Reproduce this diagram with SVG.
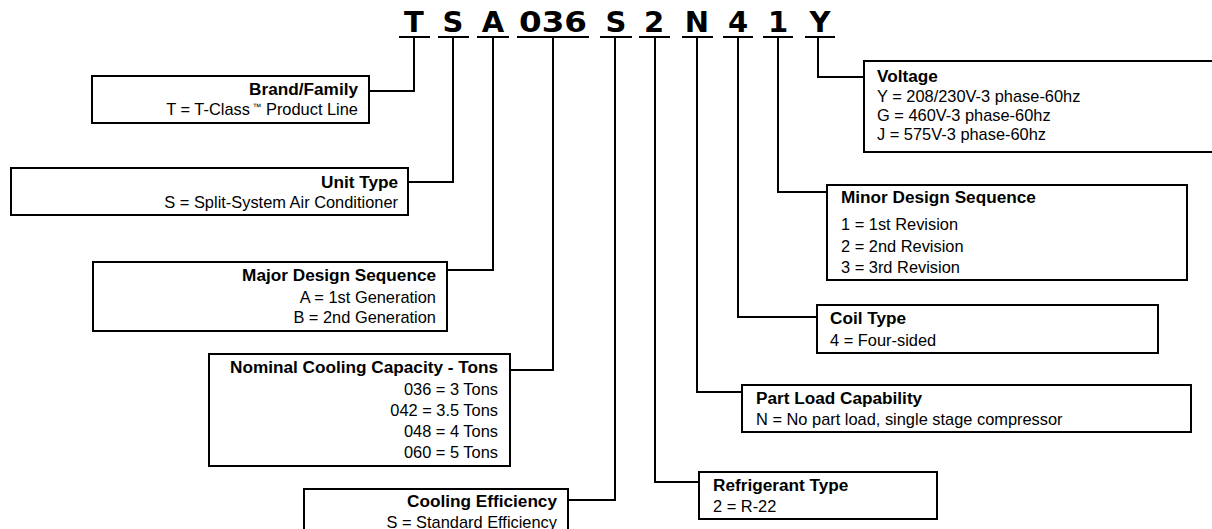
<svg xmlns="http://www.w3.org/2000/svg" width="1212" height="529" viewBox="0 0 1212 529">
<style>
.bg{fill:#fff}
.box{fill:#fff;stroke:#000;stroke-width:2}
.ln{fill:none;stroke:#000;stroke-width:2}
.code{font-family:"DejaVu Sans",sans-serif;font-weight:bold;font-size:29px;fill:#000;text-anchor:middle}
.t{font-family:"Liberation Sans",Arial,sans-serif;font-size:16.4px;fill:#000}
.b{font-weight:bold;font-size:17.2px}
.r{text-anchor:end}
</style>
<rect class="bg" x="0" y="0" width="1212" height="529"/>
<g id="code">
<text class="code" x="414" y="32">T</text>
<text class="code" x="453" y="32">S</text>
<text class="code" x="493" y="32">A</text>
<text class="code" x="553" y="32" textLength="68" lengthAdjust="spacingAndGlyphs">036</text>
<text class="code" x="616" y="32">S</text>
<text class="code" x="654" y="32">2</text>
<text class="code" x="697" y="32">N</text>
<text class="code" x="738" y="32">4</text>
<text class="code" x="778" y="32">1</text>
<text class="code" x="820" y="32">Y</text>
<path class="ln" d="M399 37H430M438 37H469M477 37H509M517 37H589M600 37H632M639 37H670M682 37H713M723 37H753M763 37H793M805 37H835"/>
</g>
<g id="connectors">
<path class="ln" d="M369 91H414V37"/>
<path class="ln" d="M408 182H453V37"/>
<path class="ln" d="M447 270H493V37"/>
<path class="ln" d="M510 370H553V37"/>
<path class="ln" d="M568 500H615V37"/>
<path class="ln" d="M655 37V482H699"/>
<path class="ln" d="M697 37V392H742"/>
<path class="ln" d="M738 37V317H817"/>
<path class="ln" d="M778 37V192H827"/>
<path class="ln" d="M818 37V77H864"/>
</g>
<g id="brand">
<rect class="box" x="92" y="76" width="277" height="47"/>
<text class="t b r" x="358" y="95">Brand/Family</text>
<text class="t r" x="358" y="115">T = T-Class<tspan font-size="9" dy="-5"> ™</tspan><tspan dy="5"> Product Line</tspan></text>
</g>
<g id="unit">
<rect class="box" x="11" y="168" width="397" height="47"/>
<text class="t b r" x="398" y="188">Unit Type</text>
<text class="t r" x="398" y="208">S = Split-System Air Conditioner</text>
</g>
<g id="major">
<rect class="box" x="93" y="262" width="354" height="69"/>
<text class="t b r" x="436" y="281">Major Design Sequence</text>
<text class="t r" x="436" y="303">A = 1st Generation</text>
<text class="t r" x="436" y="323">B = 2nd Generation</text>
</g>
<g id="nominal">
<rect class="box" x="209" y="354" width="301" height="112"/>
<text class="t b r" x="498" y="373">Nominal Cooling Capacity - Tons</text>
<text class="t r" x="498" y="395">036 = 3 Tons</text>
<text class="t r" x="498" y="416">042 = 3.5 Tons</text>
<text class="t r" x="498" y="437">048 = 4 Tons</text>
<text class="t r" x="498" y="458">060 = 5 Tons</text>
</g>
<g id="efficiency">
<rect class="box" x="304" y="489" width="264" height="52"/>
<text class="t b r" x="557" y="507">Cooling Efficiency</text>
<text class="t r" x="557" y="528">S = Standard Efficiency</text>
</g>
<g id="refrigerant">
<rect class="box" x="699" y="472" width="238" height="47"/>
<text class="t b" x="713" y="491">Refrigerant Type</text>
<text class="t" x="713" y="512">2 = R-22</text>
</g>
<g id="partload">
<rect class="box" x="742" y="385" width="449" height="47"/>
<text class="t b" x="756" y="404">Part Load Capability</text>
<text class="t" x="756" y="425">N = No part load, single stage compressor</text>
</g>
<g id="coil">
<rect class="box" x="817" y="305" width="341" height="48"/>
<text class="t b" x="830" y="324">Coil Type</text>
<text class="t" x="830" y="346">4 = Four-sided</text>
</g>
<g id="minor">
<rect class="box" x="827" y="185" width="360" height="95"/>
<text class="t b" x="841" y="203">Minor Design Sequence</text>
<text class="t" x="841" y="230">1 = 1st Revision</text>
<text class="t" x="841" y="252">2 = 2nd Revision</text>
<text class="t" x="841" y="273">3 = 3rd Revision</text>
</g>
<g id="voltage">
<rect class="box" x="864" y="61" width="352" height="91"/>
<text class="t b" x="877" y="82">Voltage</text>
<text class="t" x="877" y="102">Y = 208/230V-3 phase-60hz</text>
<text class="t" x="877" y="121">G = 460V-3 phase-60hz</text>
<text class="t" x="877" y="140">J = 575V-3 phase-60hz</text>
</g>
</svg>
